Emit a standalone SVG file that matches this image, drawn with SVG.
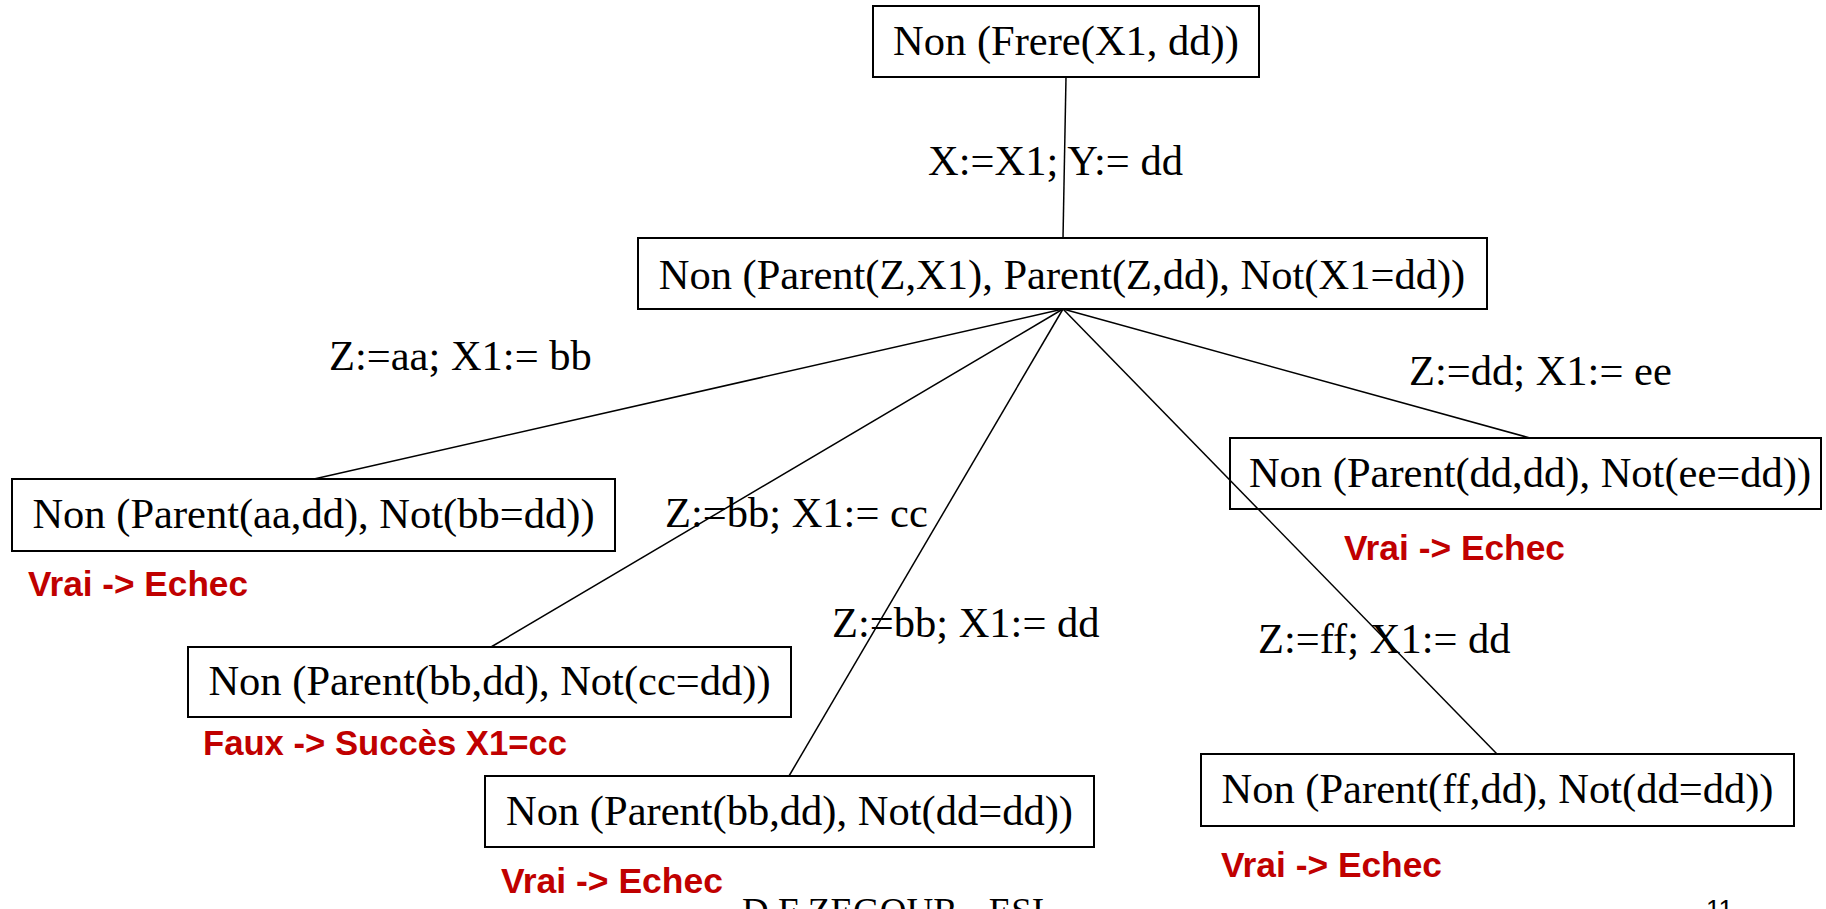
<svg xmlns="http://www.w3.org/2000/svg" width="1826" height="909" viewBox="0 0 1826 909">
  <style>
    .box { fill: none; stroke: #000000; stroke-width: 2; }
    .edge { stroke: #000000; stroke-width: 1.5; fill: none; }
    .t { font-family: "Liberation Serif", "Times New Roman", serif; font-size: 42.5px; fill: #000000; }
    .mid { text-anchor: middle; }
    .res { font-family: "Liberation Sans", Arial, sans-serif; font-weight: bold; font-size: 35px; fill: #C00000; }
    .foot { font-family: "Liberation Serif", "Times New Roman", serif; font-size: 37px; fill: #000000; }
    .num { font-family: "Liberation Sans", Arial, sans-serif; font-size: 26px; fill: #000000; }
  </style>
  <rect width="1826" height="909" fill="#ffffff"/>

  <!-- tree edges -->
  <g id="connectors">
    <line class="edge" x1="1066" y1="77" x2="1063" y2="238"/>
    <line class="edge" x1="1063" y1="309" x2="314" y2="479"/>
    <line class="edge" x1="1063" y1="309" x2="491" y2="647"/>
    <line class="edge" x1="1063" y1="309" x2="789" y2="776"/>
    <line class="edge" x1="1063" y1="309" x2="1497" y2="754"/>
    <line class="edge" x1="1063" y1="309" x2="1530" y2="438"/>
  </g>

  <!-- substitution labels on the edges -->
  <g id="edge-labels">
    <text class="t" x="928" y="175">X:=X1; Y:= dd</text>
    <text class="t" x="329" y="370">Z:=aa; X1:= bb</text>
    <text class="t" x="1409" y="385">Z:=dd; X1:= ee</text>
    <text class="t" x="665" y="527">Z:=bb; X1:= cc</text>
    <text class="t" x="832" y="637">Z:=bb; X1:= dd</text>
    <text class="t" x="1258" y="653">Z:=ff; X1:= dd</text>
  </g>

  <g id="root">
    <rect class="box" x="873" y="6" width="386" height="71"/>
    <text class="t mid" x="1066" y="55">Non (Frere(X1, dd))</text>
  </g>

  <g id="goal">
    <rect class="box" x="638" y="238" width="849" height="71"/>
    <text class="t mid" x="1062" y="289">Non (Parent(Z,X1), Parent(Z,dd), Not(X1=dd))</text>
  </g>

  <g id="leaf-aa">
    <rect class="box" x="12" y="479" width="603" height="72"/>
    <text class="t mid" x="313.5" y="528">Non (Parent(aa,dd), Not(bb=dd))</text>
    <text class="res" x="28" y="596" textLength="220" lengthAdjust="spacingAndGlyphs">Vrai -&gt; Echec</text>
  </g>

  <g id="leaf-cc">
    <rect class="box" x="188" y="647" width="603" height="70"/>
    <text class="t mid" x="489.5" y="695">Non (Parent(bb,dd), Not(cc=dd))</text>
    <text class="res" x="203" y="755" textLength="364" lengthAdjust="spacingAndGlyphs">Faux -&gt; Succès X1=cc</text>
  </g>

  <g id="leaf-bb-dd">
    <rect class="box" x="485" y="776" width="609" height="71"/>
    <text class="t mid" x="789.5" y="825">Non (Parent(bb,dd), Not(dd=dd))</text>
    <text class="res" x="501" y="893" textLength="222" lengthAdjust="spacingAndGlyphs">Vrai -&gt; Echec</text>
  </g>

  <g id="leaf-ee">
    <rect class="box" x="1230" y="438" width="591" height="71"/>
    <text class="t mid" x="1530" y="487">Non (Parent(dd,dd), Not(ee=dd))</text>
    <text class="res" x="1344" y="560" textLength="221" lengthAdjust="spacingAndGlyphs">Vrai -&gt; Echec</text>
  </g>

  <g id="leaf-ff">
    <rect class="box" x="1201" y="754" width="593" height="72"/>
    <text class="t mid" x="1497.5" y="803">Non (Parent(ff,dd), Not(dd=dd))</text>
    <text class="res" x="1221" y="877" textLength="221" lengthAdjust="spacingAndGlyphs">Vrai -&gt; Echec</text>
  </g>

  <!-- slide footer, cut by the bottom edge -->
  <g id="footer">
    <text class="foot" x="742" y="924">D.F ZEGOUR - ESI</text>
    <text class="num" x="1706" y="918">11</text>
  </g>
</svg>
